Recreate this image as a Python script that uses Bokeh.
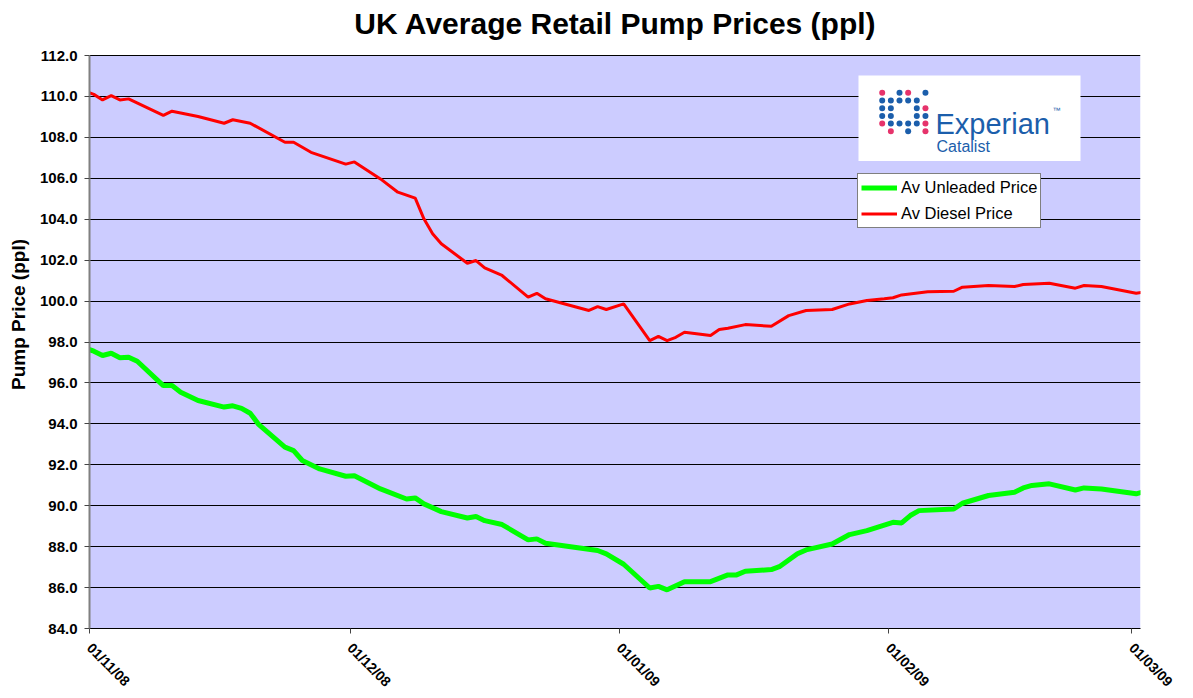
import math
import pandas as pd
from bokeh.plotting import figure
from bokeh.models import (Range1d, FixedTicker, NumeralTickFormatter, DatetimeTickFormatter,
                          Legend, LegendItem, ColumnDataSource, Label, BoxAnnotation)
from bokeh.core.properties import value
from bokeh.embed import file_html
from bokeh.resources import INLINE

# ---------------- data ----------------
unleaded_dates = [
    "2008-10-31", "2008-11-01", "2008-11-02", "2008-11-03", "2008-11-04", "2008-11-05", "2008-11-06",
    "2008-11-09", "2008-11-10", "2008-11-11", "2008-11-13", "2008-11-16", "2008-11-17", "2008-11-18",
    "2008-11-19", "2008-11-20", "2008-11-23", "2008-11-24", "2008-11-25", "2008-11-27", "2008-11-30",
    "2008-12-01", "2008-12-04", "2008-12-07", "2008-12-08", "2008-12-09", "2008-12-11", "2008-12-14",
    "2008-12-15", "2008-12-16", "2008-12-18", "2008-12-21", "2008-12-22", "2008-12-23", "2008-12-29",
    "2008-12-30", "2009-01-01", "2009-01-04", "2009-01-05", "2009-01-06", "2009-01-08", "2009-01-11",
    "2009-01-13", "2009-01-14", "2009-01-15", "2009-01-18", "2009-01-19", "2009-01-21", "2009-01-22",
    "2009-01-25", "2009-01-27", "2009-01-29", "2009-02-01", "2009-02-02", "2009-02-03", "2009-02-04",
    "2009-02-08", "2009-02-09", "2009-02-12", "2009-02-15", "2009-02-16", "2009-02-17", "2009-02-19",
    "2009-02-22", "2009-02-23", "2009-02-25", "2009-03-01", "2009-03-02",
]
unleaded_prices = [
    97.70, 97.55, 97.34, 97.45, 97.23, 97.26, 97.06,
    95.87, 95.87, 95.55, 95.14, 94.82, 94.88, 94.76,
    94.52, 93.96, 92.86, 92.69, 92.21, 91.80, 91.44,
    91.46, 90.82, 90.33, 90.38, 90.09, 89.71, 89.40,
    89.47, 89.27, 89.08, 88.33, 88.38, 88.17, 87.81,
    87.65, 87.14, 85.98, 86.06, 85.89, 86.29, 86.29,
    86.62, 86.62, 86.80, 86.88, 87.04, 87.65, 87.84,
    88.13, 88.59, 88.78, 89.19, 89.16, 89.52, 89.76,
    89.84, 90.12, 90.50, 90.66, 90.87, 90.99, 91.07,
    90.77, 90.87, 90.82, 90.58, 90.70,
]

diesel_dates = [
    "2008-10-31", "2008-11-01", "2008-11-02", "2008-11-03", "2008-11-04", "2008-11-05",
    "2008-11-09", "2008-11-10", "2008-11-13", "2008-11-16", "2008-11-17", "2008-11-19",
    "2008-11-23", "2008-11-24", "2008-11-26", "2008-11-30", "2008-12-01", "2008-12-04",
    "2008-12-06", "2008-12-08", "2008-12-09", "2008-12-10", "2008-12-11", "2008-12-14",
    "2008-12-15", "2008-12-16", "2008-12-18", "2008-12-21", "2008-12-22", "2008-12-23",
    "2008-12-28", "2008-12-29", "2008-12-30", "2009-01-01", "2009-01-04", "2009-01-05",
    "2009-01-06", "2009-01-07", "2009-01-08", "2009-01-11", "2009-01-12", "2009-01-13",
    "2009-01-15", "2009-01-18", "2009-01-20", "2009-01-22", "2009-01-25", "2009-01-27",
    "2009-01-29", "2009-01-31", "2009-02-01", "2009-02-02", "2009-02-05", "2009-02-08",
    "2009-02-09", "2009-02-12", "2009-02-15", "2009-02-16", "2009-02-19", "2009-02-22",
    "2009-02-23", "2009-02-25", "2009-03-01", "2009-03-02",
]
diesel_prices = [
    110.25, 110.10, 109.83, 110.04, 109.83, 109.88,
    109.07, 109.28, 109.02, 108.69, 108.86, 108.69,
    107.76, 107.76, 107.27, 106.69, 106.80, 105.97,
    105.32, 105.03, 104.02, 103.29, 102.80, 101.85,
    101.98, 101.62, 101.25, 100.19, 100.38, 100.11,
    99.54, 99.73, 99.59, 99.86, 98.07, 98.27,
    98.07, 98.23, 98.48, 98.32, 98.61, 98.67,
    98.85, 98.77, 99.29, 99.54, 99.59, 99.86,
    100.03, 100.11, 100.16, 100.30, 100.46, 100.48,
    100.68, 100.76, 100.71, 100.81, 100.87, 100.63,
    100.76, 100.71, 100.38, 100.45,
]

series_names = ["Av Unleaded Price", "Av Diesel Price"]
x_tick_dates = ["2008-11-01", "2008-12-01", "2009-01-01", "2009-02-01", "2009-03-01"]
y_ticks = [84, 86, 88, 90, 92, 94, 96, 98, 100, 102, 104, 106, 108, 110, 112]
title_text = "UK Average Retail Pump Prices (ppl)"
y_label = "Pump Price (ppl)"

FONT = "Liberation Sans"
Y_MIN, Y_MAX = 84, 112

# Excel date axis places each day's value in the middle of its day slot
def to_dt(ds):
    return pd.to_datetime(ds) + pd.Timedelta(hours=12)

# ---------------- figure ----------------
# The frame reaches the top of the canvas so the title can sit close to the top edge;
# the shaded plot area itself spans Y_MIN..Y_MAX (573 px tall).
PLOT_H, TOP_SPACE = 573, 55
FRAME_W, FRAME_H = 1051, PLOT_H + TOP_SPACE
y_top = Y_MAX + TOP_SPACE * (Y_MAX - Y_MIN) / PLOT_H

p = figure(width=1193, height=698, output_backend="svg", toolbar_location=None,
           x_axis_type="datetime",
           x_range=Range1d(pd.Timestamp("2008-11-01"), pd.Timestamp("2009-03-02")),
           y_range=Range1d(Y_MIN, y_top),
           min_border_left=89, min_border_right=53, min_border_top=0, min_border_bottom=70)
p.extra_x_ranges = {"px": Range1d(0, FRAME_W)}
p.extra_y_ranges = {"px": Range1d(0, FRAME_H)}

p.background_fill_color = "white"
p.border_fill_color = "white"
p.outline_line_color = None

p.add_layout(BoxAnnotation(bottom=Y_MIN, top=Y_MAX, fill_color="#CCCCFF", fill_alpha=1.0,
                           line_color=None, level="image"))

# chart title
p.add_layout(Label(x=526, y=FRAME_H - 23, x_units="screen", y_units="screen",
                   text=title_text, text_align="center", text_baseline="alphabetic",
                   text_font=FONT, text_font_size="30px", text_font_style="bold",
                   text_color="black"))

# grid
p.xgrid.grid_line_color = None
p.ygrid.grid_line_color = "black"
p.ygrid.grid_line_width = 1
p.ygrid.ticker = FixedTicker(ticks=y_ticks)

# y axis
ya = p.yaxis[0]
ya.bounds = (Y_MIN, Y_MAX)
ya.ticker = FixedTicker(ticks=y_ticks)
ya.formatter = NumeralTickFormatter(format="0.0")
ya.axis_line_color = "#808080"
ya.axis_line_width = 2
ya.major_tick_line_color = "#444444"
ya.major_tick_out = 5
ya.major_tick_in = 0
ya.minor_tick_line_color = None
ya.major_label_text_font = FONT
ya.major_label_text_font_style = "bold"
ya.major_label_text_font_size = "15px"
ya.major_label_text_color = "black"
ya.major_label_standoff = 7
ya.axis_label = y_label
ya.axis_label_text_font = FONT
ya.axis_label_text_font_style = "bold"
ya.axis_label_text_font_size = "19px"
ya.axis_label_text_color = "black"
ya.axis_label_standoff = 8

# x axis
xa = p.xaxis[0]
tick_ms = [pd.Timestamp(d).value // 10**6 for d in x_tick_dates]
xa.ticker = FixedTicker(ticks=tick_ms)
xa.formatter = DatetimeTickFormatter(days="%d/%m/%y", months="%d/%m/%y", years="%d/%m/%y")
xa.axis_line_color = "black"
xa.axis_line_width = 1
xa.major_tick_line_color = "#444444"
xa.major_tick_out = 5
xa.major_tick_in = 0
xa.minor_tick_line_color = None
xa.major_label_orientation = -math.pi / 4
xa.major_label_text_font = FONT
xa.major_label_text_font_style = "bold"
xa.major_label_text_font_size = "14px"
xa.major_label_text_color = "black"
xa.major_label_standoff = 12

# series
src_u = ColumnDataSource(dict(x=to_dt(unleaded_dates), y=unleaded_prices))
src_d = ColumnDataSource(dict(x=to_dt(diesel_dates), y=diesel_prices))
r_d = p.line("x", "y", source=src_d, line_color="#FF0000", line_width=3)
r_u = p.line("x", "y", source=src_u, line_color="#00FF00", line_width=5)

# logo (decoration, in frame pixel coordinates)
LOGO_BLUE = "#1B5EAB"
LOGO_RED = "#E6336B"
p.quad(left=[769], right=[991], bottom=[467.5], top=[553], fill_color="white",
       line_color=None, x_range_name="px", y_range_name="px")
dot_pattern = [
    (0, 0, "r"), (0, 2, "b"), (0, 3, "r"), (0, 5, "b"),
    (1, 0, "b"), (1, 1, "b"), (1, 2, "b"), (1, 3, "b"), (1, 4, "b"),
    (2, 0, "b"), (2, 1, "b"), (2, 4, "b"), (2, 5, "r"),
    (3, 0, "b"), (3, 1, "b"), (3, 4, "b"), (3, 5, "b"),
    (4, 0, "r"), (4, 1, "b"), (4, 2, "b"), (4, 3, "b"), (4, 4, "b"), (4, 5, "r"),
    (5, 1, "r"), (5, 3, "b"), (5, 5, "r"),
]
dx = [792.7 + 8.65 * c for (r, c, k) in dot_pattern]
dy = [535.7 - 7.7 * r for (r, c, k) in dot_pattern]
dc = [LOGO_RED if k == "r" else LOGO_BLUE for (r, c, k) in dot_pattern]
p.scatter(dx, dy, size=6, fill_color=dc, line_color=None, x_range_name="px", y_range_name="px")
p.text(x=[846], y=[505], text=["Experian"], text_font=value(FONT), text_font_size="29px",
       text_color=LOGO_BLUE, text_baseline="alphabetic", x_range_name="px", y_range_name="px")
p.text(x=[963], y=[518], text=["™"], text_font=value(FONT), text_font_size="8px",
       text_color=LOGO_BLUE, text_baseline="alphabetic", x_range_name="px", y_range_name="px")
p.text(x=[847], y=[482], text=["Catalist"], text_font=value(FONT), text_font_size="16px",
       text_color=LOGO_BLUE, text_baseline="alphabetic", x_range_name="px", y_range_name="px")

legend = Legend(items=[LegendItem(label=series_names[0], renderers=[r_u]),
                       LegendItem(label=series_names[1], renderers=[r_d])],
                location=(768, 400), orientation="vertical",
                padding=3, spacing=5, margin=0,
                glyph_width=36, glyph_height=21, label_height=21, label_standoff=4,
                label_text_font=FONT, label_text_font_size="16.5px", label_text_color="black",
                border_line_color="black", border_line_width=1,
                background_fill_color="white", background_fill_alpha=1.0)
p.add_layout(legend)

open("out.html", "w").write(file_html(p, INLINE))
